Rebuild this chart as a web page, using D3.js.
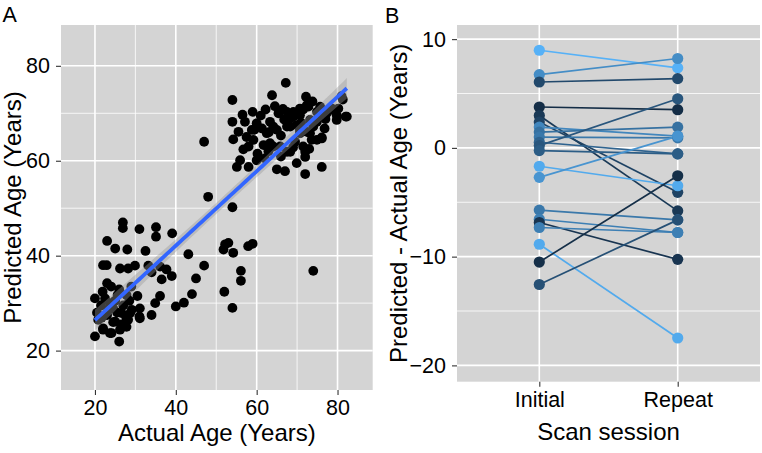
<!DOCTYPE html>
<html><head><meta charset="utf-8">
<script src="https://cdn.jsdelivr.net/npm/d3@7"></script>
<style>body{margin:0;background:#fff;}svg{display:block;font-family:"Liberation Sans",Arial,sans-serif;}</style>
</head><body>
<svg id="chart" width="762" height="453"></svg>
<script>
// ---------- Panel A data: actual age vs predicted age ----------
const actualAge = [67.2,54.0,63.8,72.2,81.0,81.3,47.0,54.0,57.1,59.0,62.2,65.4,66.5,69.1,72.4,75.7,78.6,79.8,82.0,77.3,74.9,76.1,72.0,72.0,69.9,76.1,72.0,65.0,67.0,55.1,58.0,60.0,55.9,56.7,59.2,61.7,63.3,65.8,67.5,54.2,55.5,58.8,61.3,62.5,65.0,67.5,69.9,68.3,70.7,72.4,73.6,69.5,60.0,63.3,57.5,
70.7,72.8,74.9,78.2,79.8,82.3,80.2,73.2,69.1,67.5,74.0,70.7,76.1,74.9,68.3,64.1,73.2,70.7,66.0,64.1,68.3,71.5,73.0,62.9,59.4,66.8,71.0,75.5,77.0,64.5,61.0,56.5,58.0,60.2,62.0,66.0,69.0,71.5,73.8,76.8,63.0,
48.0,54.0,
52.2,53.0,51.8,54.2,57.9,59.0,56.1,56.1,52.0,54.0,74.0,47.0,43.1,45.0,44.0,42.0,40.0,39.1,35.1,35.1,31.0,26.9,26.9,23.0,25.0,28.0,22.0,22.9,26.2,28.2,29.9,33.2,36.1,37.7,39.0,36.1,34.9,34.0,31.1,31.0,23.0,21.9,20.0,26.0,25.6,23.7,23.3,24.5,26.6,27.8,29.1,25.0,22.0,23.7,20.0,26.0,20.8,21.6,27.4,26.2,27.8,22.0,24.1,27.8,28.2,28.7,31.1,24.0,25.0,21.5,23.0,25.5,27.0,28.5,22.5,24.5,26.5,20.5,30.5,29.0,36.5,34.0,32.5];
const predictedAge = [76.4,72.8,73.8,73.5,73.6,72.9,64.0,68.2,68.2,70.3,70.8,70.0,70.9,70.3,71.7,71.4,71.0,69.6,69.3,70.0,68.2,64.7,61.9,60.8,59.5,58.7,57.2,58.2,57.8,58.7,58.7,60.1,60.1,62.4,64.4,63.3,63.7,63.0,61.9,64.5,66.1,66.5,66.8,65.8,66.5,67.2,67.5,68.9,69.6,66.1,64.4,64.0,67.9,68.2,65.0,
71.0,71.4,70.3,70.7,68.6,69.3,71.0,68.6,69.3,70.3,67.2,66.5,64.9,64.4,61.9,63.0,65.8,65.8,65.3,67.2,67.2,63.0,62.5,62.0,66.5,68.7,68.0,69.5,68.8,71.5,69.5,69.7,63.0,61.5,60.5,60.9,62.8,70.8,72.5,66.8,66.0,
52.4,50.2,
42.4,42.7,41.3,40.6,42.0,42.5,36.8,34.7,32.4,29.0,36.8,37.9,40.3,35.2,31.9,30.1,29.3,44.7,46.0,44.0,45.6,47.0,45.8,43.1,41.5,41.3,38.0,38.0,37.3,37.3,37.9,37.9,37.7,37.1,35.7,31.5,30.0,27.5,28.9,27.2,34.2,32.4,31.0,32.9,31.7,30.0,28.6,28.9,27.9,26.8,28.6,26.1,24.7,23.7,23.0,21.9,26.5,26.9,25.4,24.4,31.7,24.4,23.7,25.0,26.5,27.9,26.8,33.5,30.5,29.5,27.5,28.0,29.5,30.5,31.0,26.0,25.5,28.0,31.5,33.5,35.0,36.5,41.0];
const ageTicks = [20, 40, 60, 80];
const ageMinor = [30, 50, 70];

// ---------- Panel B data: predicted - actual age, initial vs repeat ----------
const sessions = ["Initial", "Repeat"];
const initialDiff = [8.98, 6.74, 6.06, 3.76, 2.98, 2.37, 1.91, 1.45, 0.99, 0.52, 0.21, -0.25, -1.69, -2.71, -5.72, -6.56, -6.86, -7.32, -8.86, -10.5, -12.56];
const repeatDiff  = [7.36, 8.22, 6.37, 3.51, -5.79, -4.09, 1.08, 1.91, 0.92, -0.55, 4.52, -0.55, -3.48, 1.08, -6.62, -7.78, -10.25, -7.78, -17.48, -2.56, -6.62];
const subjectShade = [1.0, 0.75, 0.25, 0.02, 0.12, 0.2, 0.7, 0.55, 0.6, 0.45, 0.35, 0.4, 0.95, 0.8, 0.6, 0.65, 0.08, 0.65, 0.95, 0.03, 0.3];
const diffTicks = [10, 0, -10, -20];
const diffMinor = [5, -5, -15];

const svg = d3.select("#chart");
const bg = "#D4D4D4";

// ================= Panel A =================
const A = {l: 61, r: 372.7, t: 25, b: 390};
const xA = d3.scaleLinear().domain([11.6, 88.7]).range([A.l, A.r]);
const yA = d3.scaleLinear().domain([11.7, 88.6]).range([A.b, A.t]);
const gA = svg.append("g");
gA.append("rect").attr("x", A.l).attr("y", A.t).attr("width", A.r - A.l).attr("height", A.b - A.t).attr("fill", bg);
gA.selectAll(".vminor").data(ageMinor).join("line").attr("x1", d => xA(d)).attr("x2", d => xA(d)).attr("y1", A.t).attr("y2", A.b).attr("stroke", "#fff").attr("stroke-width", 0.8);
gA.selectAll(".hminor").data(ageMinor).join("line").attr("y1", d => yA(d)).attr("y2", d => yA(d)).attr("x1", A.l).attr("x2", A.r).attr("stroke", "#fff").attr("stroke-width", 0.8);
gA.selectAll(".vmajor").data(ageTicks).join("line").attr("x1", d => xA(d)).attr("x2", d => xA(d)).attr("y1", A.t).attr("y2", A.b).attr("stroke", "#fff").attr("stroke-width", 1.6);
gA.selectAll(".hmajor").data(ageTicks).join("line").attr("y1", d => yA(d)).attr("y2", d => yA(d)).attr("x1", A.l).attr("x2", A.r).attr("stroke", "#fff").attr("stroke-width", 1.6);

const pts = actualAge.map((x, i) => ({x, y: predictedAge[i]}));
gA.selectAll(".pt").data(pts).join("circle").attr("cx", d => xA(d.x)).attr("cy", d => yA(d.y)).attr("r", 4.9).attr("fill", "#000");

// linear regression with standard error band
const n = pts.length;
const mx = d3.mean(pts, d => d.x), my = d3.mean(pts, d => d.y);
const sxx = d3.sum(pts, d => (d.x - mx) ** 2);
const sxy = d3.sum(pts, d => (d.x - mx) * (d.y - my));
const slope = sxy / sxx, intercept = my - slope * mx;
const sres = Math.sqrt(d3.sum(pts, d => (d.y - (intercept + slope * d.x)) ** 2) / (n - 2));
const xmin = d3.min(actualAge), xmax = d3.max(actualAge);
const fitX = d3.range(0, 81).map(i => xmin + (xmax - xmin) * i / 80);
const fit = fitX.map(x => {
  const yh = intercept + slope * x;
  const se = 1.97 * sres * Math.sqrt(1 / n + (x - mx) ** 2 / sxx);
  return {x, y: yh, lo: yh - se, hi: yh + se};
});
gA.append("path").datum(fit).attr("fill", "#999").attr("fill-opacity", 0.4)
  .attr("d", d3.area().x(d => xA(d.x)).y0(d => yA(d.lo)).y1(d => yA(d.hi)));
gA.append("path").datum(fit).attr("fill", "none").attr("stroke", "#3366FF").attr("stroke-width", 3.8)
  .attr("d", d3.line().x(d => xA(d.x)).y(d => yA(d.y)));

// axes A
const axAx = gA.append("g").attr("transform", `translate(0,${A.b})`)
  .call(d3.axisBottom(xA).tickValues(ageTicks).tickSize(5).tickPadding(6).tickFormat(d3.format("d")));
const axAy = gA.append("g").attr("transform", `translate(${A.l},0)`)
  .call(d3.axisLeft(yA).tickValues(ageTicks).tickSize(5).tickPadding(6).tickFormat(d3.format("d")));
[axAx, axAy].forEach(a => {
  a.select(".domain").remove();
  a.selectAll(".tick line").attr("stroke", "#333").attr("stroke-width", 1.1);
  a.selectAll(".tick text").attr("fill", "#000").attr("font-size", 21.5).attr("font-family", "Liberation Sans, Arial, sans-serif");
});
axAx.selectAll(".tick text").attr("dy", "0.71em").attr("y", 10);
axAy.selectAll(".tick text").attr("x", -11);
gA.append("text").attr("x", (A.l + A.r) / 2).attr("y", 441).attr("text-anchor", "middle").attr("font-size", 24).text("Actual Age (Years)");
gA.append("text").attr("transform", `translate(20.5,${(A.t + A.b) / 2}) rotate(-90)`).attr("text-anchor", "middle").attr("font-size", 24).text("Predicted Age (Years)");
svg.append("text").attr("x", 2.5).attr("y", 21.7).attr("font-size", 21.5).text("A");

// ================= Panel B =================
const B = {l: 457, r: 760, t: 25, b: 381.7};
const xB = d3.scalePoint().domain(sessions).range([539.3, 677.7]);
const yB = d3.scaleLinear().domain([-21.5, 11.3]).range([B.b, B.t]);
const color = d3.scaleLinear().domain([0, 1]).range(["#132B43", "#56B1F7"]).interpolate(d3.interpolateLab);
const gB = svg.append("g");
gB.append("rect").attr("x", B.l).attr("y", B.t).attr("width", B.r - B.l).attr("height", B.b - B.t).attr("fill", bg);
gB.selectAll(".hminor").data(diffMinor).join("line").attr("y1", d => yB(d)).attr("y2", d => yB(d)).attr("x1", B.l).attr("x2", B.r).attr("stroke", "#fff").attr("stroke-width", 0.8);
gB.selectAll(".hmajor").data(diffTicks).join("line").attr("y1", d => yB(d)).attr("y2", d => yB(d)).attr("x1", B.l).attr("x2", B.r).attr("stroke", "#fff").attr("stroke-width", 1.6);
gB.selectAll(".vmajor").data(sessions).join("line").attr("x1", d => xB(d)).attr("x2", d => xB(d)).attr("y1", B.t).attr("y2", B.b).attr("stroke", "#fff").attr("stroke-width", 1.6);

const subj = initialDiff.map((v, i) => ({a: v, b: repeatDiff[i], s: subjectShade[i]}));
gB.selectAll(".seg").data(subj).join("line")
  .attr("x1", xB("Initial")).attr("x2", xB("Repeat"))
  .attr("y1", d => yB(d.a)).attr("y2", d => yB(d.b))
  .attr("stroke", d => color(d.s)).attr("stroke-width", 1.7);
gB.selectAll(".pa").data(subj).join("circle").attr("cx", xB("Initial")).attr("cy", d => yB(d.a)).attr("r", 5.6).attr("fill", d => color(d.s));
gB.selectAll(".pb").data(subj).join("circle").attr("cx", xB("Repeat")).attr("cy", d => yB(d.b)).attr("r", 5.6).attr("fill", d => color(d.s));

const axBx = gB.append("g").attr("transform", `translate(0,${B.b})`)
  .call(d3.axisBottom(xB).tickSize(5).tickPadding(6));
const axBy = gB.append("g").attr("transform", `translate(${B.l},0)`)
  .call(d3.axisLeft(yB).tickValues(diffTicks).tickSize(5).tickPadding(6).tickFormat(d3.format("d")));
[axBx, axBy].forEach(a => {
  a.select(".domain").remove();
  a.selectAll(".tick line").attr("stroke", "#333").attr("stroke-width", 1.1);
  a.selectAll(".tick text").attr("fill", "#000").attr("font-size", 21.5).attr("font-family", "Liberation Sans, Arial, sans-serif");
});
axBx.selectAll(".tick text").attr("dy", "0.71em").attr("y", 10);
axBy.selectAll(".tick text").attr("x", -11);
gB.append("text").attr("x", (B.l + B.r) / 2).attr("y", 440).attr("text-anchor", "middle").attr("font-size", 24).text("Scan session");
gB.append("text").attr("transform", `translate(407,${(B.t + B.b) / 2}) rotate(-90)`).attr("text-anchor", "middle").attr("font-size", 24).text("Predicted - Actual Age (Years)");
svg.append("text").attr("x", 385).attr("y", 22.5).attr("font-size", 21.5).text("B");
</script>
</body></html>
